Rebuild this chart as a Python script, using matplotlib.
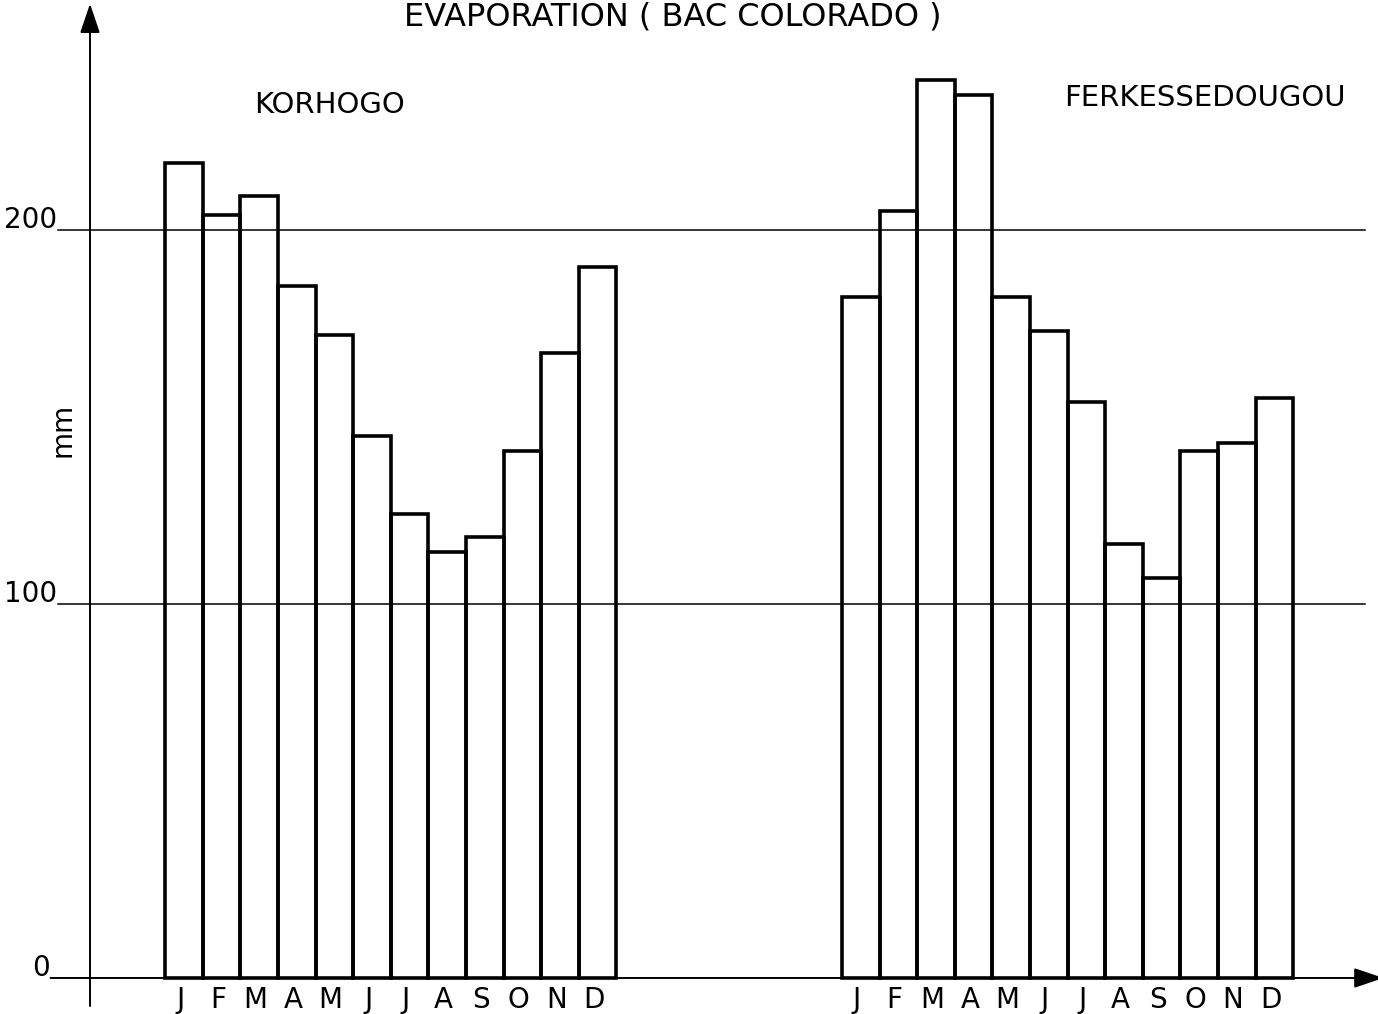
import matplotlib
matplotlib.use("Agg")
import matplotlib.pyplot as plt
import numpy as np

# Monthly evaporation (mm), Colorado pan
months = ["J", "F", "M", "A", "M", "J", "J", "A", "S", "O", "N", "D"]
korhogo = [218, 204, 209, 185, 172, 145, 124, 114, 118, 141, 167, 190]
ferke = [182, 205, 240, 236, 182, 173, 154, 116, 107, 141, 143, 155]
y_ticks = [0, 100, 200]

plt.rcParams["font.family"] = "DejaVu Sans"

fig = plt.figure(figsize=(13.78, 10.14), dpi=100)
ax = fig.add_axes([0, 0, 1, 1])
ax.set_xlim(-2.394, 34.255)
ax.set_ylim(-9.63, 261.5)
ax.axis("off")

# bar blocks: one unit per month, Korhogo starts at 2, Ferkessedougou at 20
x_k = np.arange(12) + 2
x_f = np.arange(12) + 20
bar_kw = dict(width=1, align="edge", fill=False, edgecolor="black",
              linewidth=2.6, zorder=3)
ax.bar(x_k, korhogo, **bar_kw)
ax.bar(x_f, ferke, **bar_kw)

# horizontal reference lines and axis tick labels
for v in y_ticks:
    start = -0.85 if v else -1.05
    if v:
        ax.plot([start, 33.9], [v, v], color="black", lw=1.1, zorder=2)
    ax.text(start - 0.02, v - 1.2, str(v), ha="right", va="bottom",
            fontsize=20)

# axes with arrow heads
arrow = dict(arrowstyle="-|>,head_length=0.65,head_width=0.22", lw=1.4,
             color="black", mutation_scale=28, shrinkA=0, shrinkB=0)
ax.annotate("", xy=(34.4, 0), xytext=(-1.05, 0), arrowprops=arrow,
            annotation_clip=False, zorder=4)
ax.annotate("", xy=(0, 260.5), xytext=(0, -7.5), arrowprops=arrow,
            annotation_clip=False, zorder=4)

# month labels
for xs in (x_k, x_f):
    for x, m in zip(xs, months):
        ax.text(x + 0.4, -5.9, m, ha="center", va="center", fontsize=20)

ax.text(-0.72, 146.5, "mm", rotation=90, ha="center", va="center",
        fontsize=20)
ax.text(6.36, 233.3, "KORHOGO", ha="center", va="center", fontsize=21)
ax.text(29.65, 235.2, "FERKESSEDOUGOU", ha="center", va="center",
        fontsize=21)

# title along the top edge of the sheet
ax.text(15.5, 261.2, "EVAPORATION ( BAC COLORADO )", ha="center",
        va="top", fontsize=23)

fig.savefig("out.png", dpi=100)
